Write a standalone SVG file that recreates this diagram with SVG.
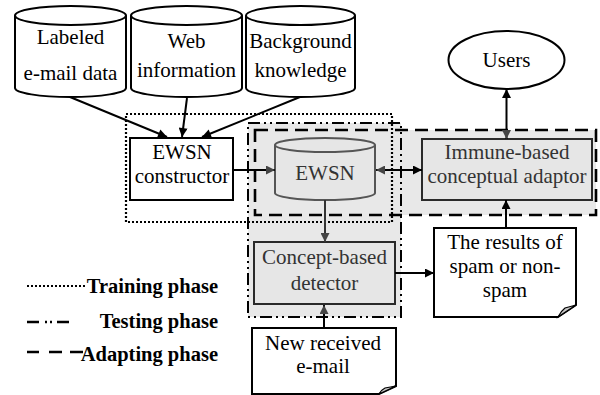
<svg xmlns="http://www.w3.org/2000/svg" width="600" height="395" viewBox="0 0 600 395" font-family="'Liberation Serif', 'Times New Roman', Tinos, 'DejaVu Serif', serif">
  <defs>
    <marker id="arrow" viewBox="0 0 10 10" refX="10" refY="5" markerWidth="10" markerHeight="9" markerUnits="userSpaceOnUse" orient="auto-start-reverse">
      <path d="M0,0 L10,5 L0,10 Z" fill="#000"/>
    </marker>
    <marker id="arrow-gray" viewBox="0 0 10 10" refX="10" refY="5" markerWidth="10" markerHeight="9" markerUnits="userSpaceOnUse" orient="auto-start-reverse">
      <path d="M0,0 L10,5 L0,10 Z" fill="#444"/>
    </marker>
  </defs>
  <style>
    text { font-family: 'Liberation Serif', 'Times New Roman', Tinos, 'DejaVu Serif', serif; font-size: 21px; fill: #000; text-anchor: middle; }
    .dim { fill: #333; }
    .legend { font-weight: bold; font-size: 20.5px; text-anchor: end; }
    .shape { fill: #fff; stroke: #000; stroke-width: 2; }
    .shape-gray { fill: #e6e6e6; stroke: #2a2a2a; stroke-width: 2; }
    .cyl-gray { fill: #e6e6e6; stroke: #555; stroke-width: 2; }
    .fold { fill: #c8c8c8; stroke: #000; stroke-width: 1.2; }
    .conn { fill: none; stroke: #000; stroke-width: 2; }
    .conn-gray { fill: none; stroke: #333; stroke-width: 2; }
    .train { fill: none; stroke: #000; stroke-width: 2.2; stroke-dasharray: 2 2; }
    .test { stroke: #000; stroke-width: 2; stroke-dasharray: 12 4 2 4 2 4; }
    .adapt { stroke: #000; stroke-width: 2.6; stroke-dasharray: 13 7; }
  </style>

  <rect width="600" height="395" fill="#fff"/>

  <!-- phase frames: shaded areas first, outlines on top -->
  <g id="phases">
    <rect x="248" y="123" width="153" height="194" fill="#e8e8e8"/>
    <rect x="255" y="130" width="341" height="85" fill="#e8e8e8"/>
    <rect class="train" x="126" y="114" width="266" height="108"/>
    <rect class="test" x="248" y="123" width="153" height="194" fill="none"/>
    <rect class="adapt" x="255" y="130" width="341" height="85" fill="none"/>
  </g>

  <!-- data sources -->
  <g id="labeled-email-data">
    <path class="shape" d="M15,15.5 L15,88 A55.5,9 0 0 0 126,88 L126,15.5"/>
    <ellipse class="shape" cx="70.5" cy="15.5" rx="55.5" ry="9.5"/>
    <text x="70.5" y="44">Labeled</text>
    <text x="70.5" y="80">e-mail data</text>
  </g>
  <g id="web-information">
    <path class="shape" d="M131,15.5 L131,88 A55.5,9 0 0 0 242,88 L242,15.5"/>
    <ellipse class="shape" cx="186.5" cy="15.5" rx="55.5" ry="9.5"/>
    <text x="186.5" y="48">Web</text>
    <text x="186.5" y="77">information</text>
  </g>
  <g id="background-knowledge">
    <path class="shape" d="M246,15.5 L246,88 A54.5,9 0 0 0 355,88 L355,15.5"/>
    <ellipse class="shape" cx="300.5" cy="15.5" rx="54.5" ry="9.5"/>
    <text x="300.5" y="48">Background</text>
    <text x="300.5" y="77">knowledge</text>
  </g>

  <g id="ewsn-constructor">
    <rect class="shape" x="130" y="138" width="103" height="62"/>
    <text x="182" y="159">EWSN</text>
    <text x="182" y="183">constructor</text>
  </g>

  <g id="ewsn">
    <path class="cyl-gray" d="M275,145 L275,193 A50,7 0 0 0 375,193 L375,145"/>
    <ellipse class="cyl-gray" cx="325" cy="145" rx="50" ry="7"/>
    <text class="dim" x="325" y="180">EWSN</text>
  </g>

  <g id="users">
    <ellipse class="shape" cx="506.5" cy="60" rx="58" ry="29"/>
    <text x="506.5" y="67">Users</text>
  </g>

  <g id="immune-adaptor">
    <rect class="shape-gray" x="422" y="139" width="170" height="61"/>
    <text class="dim" x="507" y="159">Immune-based</text>
    <text class="dim" x="507" y="183">conceptual adaptor</text>
  </g>

  <g id="concept-detector">
    <rect class="shape-gray" x="254" y="242" width="141" height="62"/>
    <text class="dim" x="324.5" y="264">Concept-based</text>
    <text class="dim" x="324.5" y="290">detector</text>
  </g>

  <g id="spam-results">
    <path class="shape" d="M434,228 H576 V305 L558,317 H434 Z"/>
    <path class="fold" d="M576,305 L565,308 Q561,311 558,317 Z"/>
    <text x="505" y="249">The results of</text>
    <text x="505" y="273">spam or non-</text>
    <text x="505" y="297">spam</text>
  </g>

  <g id="new-email">
    <path class="shape" d="M252,328 H396 V386 L379,394 H252 Z"/>
    <path class="fold" d="M396,386 L385,388 Q381,390 379,394 Z"/>
    <text x="323" y="350">New received</text>
    <text x="323" y="373">e-mail</text>
  </g>

  <!-- connectors -->
  <g id="connectors">
    <line class="conn" x1="70" y1="97" x2="167" y2="137" marker-end="url(#arrow)"/>
    <line class="conn" x1="187" y1="98" x2="182" y2="137" marker-end="url(#arrow)"/>
    <line class="conn" x1="300" y1="97" x2="202" y2="137" marker-end="url(#arrow)"/>
    <line class="conn" x1="233" y1="170" x2="275" y2="170" marker-end="url(#arrow-gray)"/>
    <line class="conn" x1="376" y1="170" x2="422" y2="170" marker-start="url(#arrow-gray)" marker-end="url(#arrow)"/>
    <line class="conn" x1="506.5" y1="89" x2="506.5" y2="139" marker-start="url(#arrow)" marker-end="url(#arrow-gray)"/>
    <line class="conn-gray" x1="325" y1="200" x2="325" y2="242" marker-end="url(#arrow-gray)"/>
    <line class="conn" x1="395" y1="273" x2="434" y2="273" marker-end="url(#arrow)"/>
    <line class="conn" x1="506" y1="228" x2="506" y2="200" marker-end="url(#arrow)"/>
    <line class="conn" x1="324" y1="328" x2="324" y2="305" marker-end="url(#arrow-gray)"/>
  </g>

  <!-- legend -->
  <g id="legend">
    <line class="train" x1="27" y1="286" x2="85" y2="286"/>
    <text class="legend" x="218" y="293">Training phase</text>
    <path d="M27,322 H39 M45,322 H47 M50,322 H52 M57,322 H69" stroke="#000" stroke-width="2.4" fill="none"/>
    <text class="legend" x="218" y="328">Testing phase</text>
    <path d="M27,352 H39 M49,352 H62 M70,352 H83" stroke="#000" stroke-width="2.6" fill="none"/>
    <text class="legend" x="218" y="361">Adapting phase</text>
  </g>
</svg>
